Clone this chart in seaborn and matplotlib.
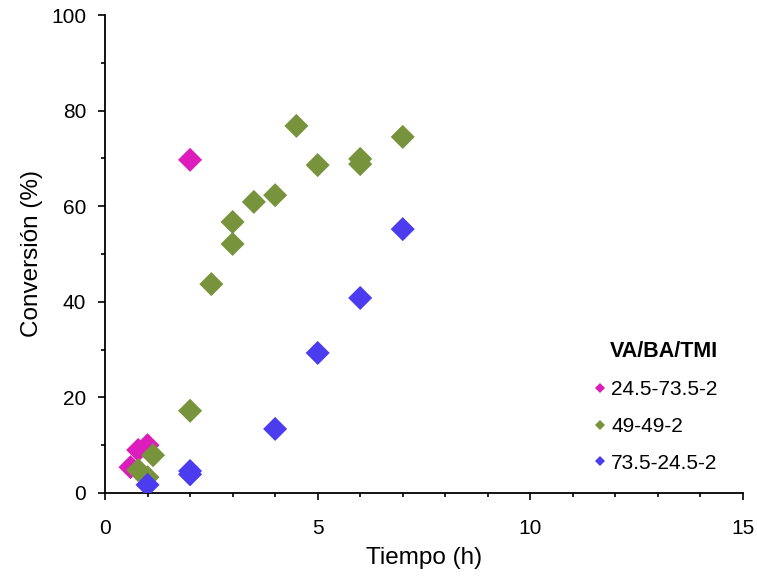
"""
Conversion vs time for VA/BA/TMI copolymerisations.
"""
import matplotlib
matplotlib.use("Agg")
import pandas as pd
import matplotlib.pyplot as plt
from matplotlib.ticker import MultipleLocator
import seaborn as sns

# --- data ---
t_24 = [0.6, 0.78, 1.0, 2.0]
conv_24 = [5.4, 9.0, 10.0, 69.7]

t_49 = [0.78, 1.0, 1.13, 2.0, 2.5, 3.0, 3.0, 3.5, 4.0, 4.5, 5.0, 6.0, 6.0, 7.0]
conv_49 = [4.8, 3.3, 7.9, 17.2, 43.7, 52.1, 56.7, 60.9, 62.3, 76.8, 68.6, 69.9, 68.8, 74.5]

t_73 = [1.0, 2.0, 2.0, 4.0, 5.0, 6.0, 7.0]
conv_73 = [1.7, 4.6, 3.9, 13.4, 29.3, 40.8, 55.2]

series_names = ["24.5-73.5-2", "49-49-2", "73.5-24.5-2"]
colors = ["#DD1DBB", "#77933C", "#4B3CF0"]

df = pd.concat([
    pd.DataFrame({"t": t_24, "conv": conv_24, "serie": series_names[0]}),
    pd.DataFrame({"t": t_49, "conv": conv_49, "serie": series_names[1]}),
    pd.DataFrame({"t": t_73, "conv": conv_73, "serie": series_names[2]}),
])

sns.set_style("ticks")
plt.rcParams["font.family"] = ["Liberation Sans", "DejaVu Sans"]
plt.rcParams["text.color"] = "black"
plt.rcParams["axes.labelcolor"] = "black"

fig = plt.figure(figsize=(7.57, 5.77), dpi=100)
ax = fig.add_axes([0.1387, 0.1456, 0.9815 - 0.1387, 0.974 - 0.1456])

sns.scatterplot(data=df, x="t", y="conv", hue="serie", palette=colors,
                marker="D", s=150, linewidth=0, ax=ax, legend=True, zorder=3)

ax.set_xlim(0, 15)
ax.set_ylim(0, 100)
ax.xaxis.set_major_locator(MultipleLocator(5))
ax.xaxis.set_minor_locator(MultipleLocator(1))
ax.yaxis.set_major_locator(MultipleLocator(20))
ax.yaxis.set_minor_locator(MultipleLocator(10))
ax.tick_params(which="major", direction="out", length=5, width=1.2, labelsize=15,
               colors="black", labelcolor="black")
ax.tick_params(axis="x", which="major", pad=14)
ax.tick_params(axis="y", which="major", pad=8.5)
ax.tick_params(which="minor", direction="out", length=3, width=1.2, colors="black")
for side in ["top", "right"]:
    ax.spines[side].set_visible(False)
for side in ["left", "bottom"]:
    ax.spines[side].set_linewidth(1.3)
    ax.spines[side].set_color("black")

ax.set_xlabel("Tiempo (h)", fontsize=17.5, labelpad=6)
ax.set_ylabel("Conversión (%)", fontsize=17.5, labelpad=6)

leg = ax.legend(title="VA/BA/TMI", frameon=False, fontsize=15, title_fontsize=15.5,
                loc="center left", bbox_to_anchor=(0.746, 0.18), markerscale=0.45,
                handlelength=1.0, handletextpad=0.05, labelspacing=0.85,
                borderaxespad=0.0)
leg.get_title().set_fontweight("bold")
leg._legend_box.align = "right"

fig.savefig("out.png", dpi=100)
